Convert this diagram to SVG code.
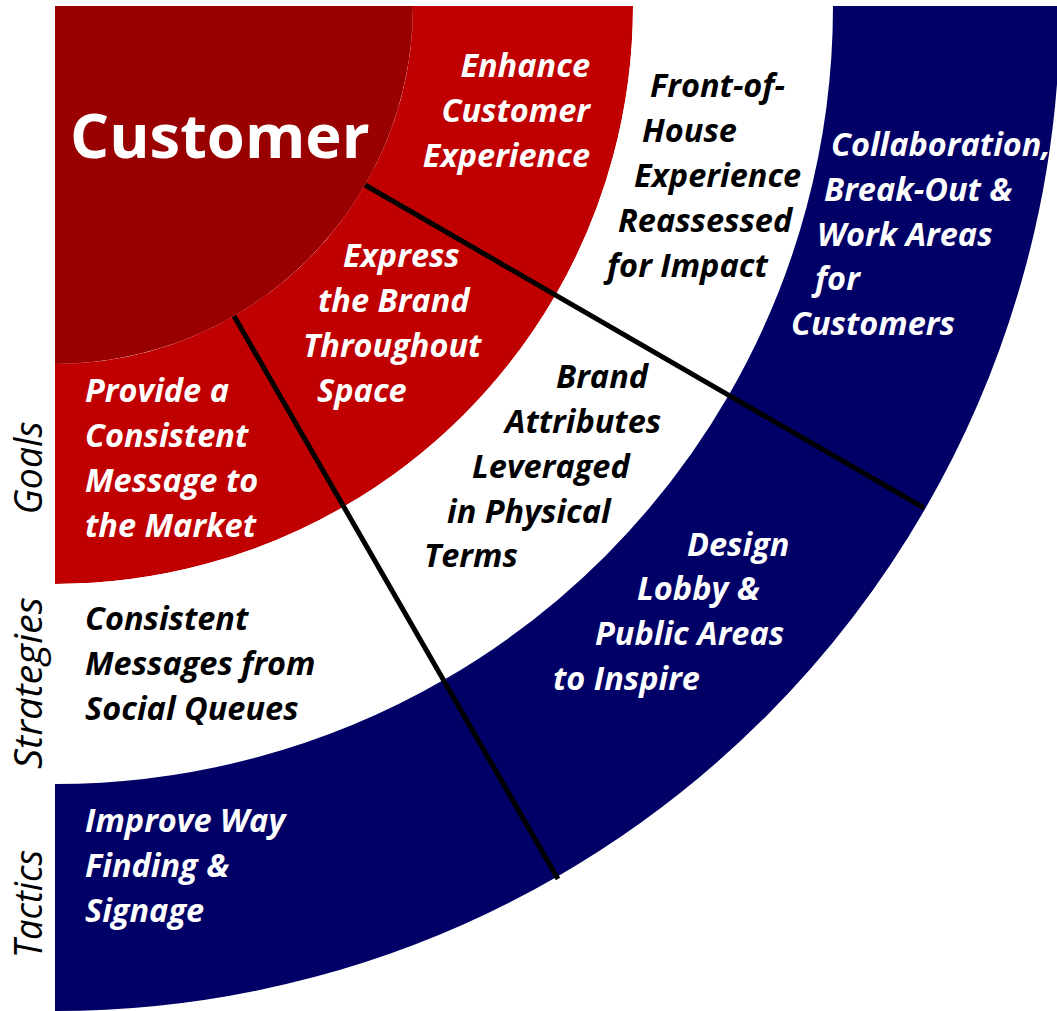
<svg xmlns="http://www.w3.org/2000/svg" width="1057" height="1011" viewBox="0 0 1057 1011">
<style>
.t{font-family:"Open Sans","Noto Sans","DejaVu Sans",sans-serif;font-weight:bold;font-style:italic;font-size:32.5px}
.w{fill:#ffffff}
.k{fill:#000000}
.side{font-family:"Open Sans","Noto Sans","DejaVu Sans",sans-serif;font-style:italic;font-size:38px;fill:#000000}
.core{fill:#990000}
.goal{fill:#C00000}
.strat{fill:#ffffff}
.tact{fill:#000066}
.div{stroke:#000000;stroke-width:5;fill:none}
</style>
<rect width="1057" height="1011" fill="#ffffff"/>
<g id="customer">
<path class="core" d="M55,6 L413,6 A358,358 0 0 1 55,364 Z"/>
<text x="70" y="158" style="font-family:'Open Sans','Noto Sans',sans-serif;font-weight:bold;font-size:61.5px;fill:#ffffff">Customer</text>
</g>
<g id="goal-enhance">
<path class="goal" d="M413,6 L633,6 A578,578 0 0 1 555.6,295 L365,185 A358,358 0 0 0 413,6 Z"/>
<text class="t w" text-anchor="end"><tspan x="590" y="77">Enhance</tspan><tspan x="590" y="122">Customer</tspan><tspan x="590" y="167">Experience</tspan></text>
</g>
<g id="goal-express">
<path class="goal" d="M365,185 L555.6,295 A578,578 0 0 1 344,506.6 L234,316 A358,358 0 0 0 365,185 Z"/>
<text class="t w"><tspan x="343" y="267">Express</tspan><tspan x="318" y="312">the Brand</tspan><tspan x="303" y="357">Throughout</tspan><tspan x="317" y="402">Space</tspan></text>
</g>
<g id="goal-provide">
<path class="goal" d="M234,316 L344,506.6 A578,578 0 0 1 55,584 L55,364 A358,358 0 0 0 234,316 Z"/>
<text class="t w"><tspan x="85" y="402">Provide a</tspan><tspan x="85" y="447">Consistent</tspan><tspan x="85" y="492">Message to</tspan><tspan x="85" y="537">the Market</tspan></text>
</g>
<g id="strategy-front">
<path class="strat" d="M633,6 L833,6 A778,778 0 0 1 728.8,395 L555.6,295 A578,578 0 0 0 633,6 Z"/>
<text class="t k"><tspan x="650" y="97">Front-of-</tspan><tspan x="642" y="142">House</tspan><tspan x="634" y="187">Experience</tspan><tspan x="618" y="232">Reassessed</tspan><tspan x="607" y="277">for Impact</tspan></text>
</g>
<g id="strategy-brand">
<path class="strat" d="M555.6,295 L728.8,395 A778,778 0 0 1 444,679.8 L344,506.6 A578,578 0 0 0 555.6,295 Z"/>
<text class="t k"><tspan x="556" y="388">Brand</tspan><tspan x="505" y="433">Attributes</tspan><tspan x="472" y="478">Leveraged</tspan><tspan x="447" y="523">in Physical</tspan><tspan x="424" y="567">Terms</tspan></text>
</g>
<g id="strategy-consistent">
<path class="strat" d="M344,506.6 L444,679.8 A778,778 0 0 1 55,784 L55,584 A578,578 0 0 0 344,506.6 Z"/>
<text class="t k"><tspan x="85" y="630">Consistent</tspan><tspan x="85" y="675">Messages from</tspan><tspan x="85" y="720">Social Queues</tspan></text>
</g>
<g id="tactic-collaboration">
<path class="tact" d="M833,6 L1060,6 A1005,1005 0 0 1 925.4,508.5 L728.8,395 A778,778 0 0 0 833,6 Z"/>
<text class="t w"><tspan x="831" y="156">Collaboration,</tspan><tspan x="824" y="201">Break-Out &amp;</tspan><tspan x="817" y="246">Work Areas</tspan><tspan x="815" y="290">for</tspan><tspan x="791" y="335">Customers</tspan></text>
</g>
<g id="tactic-design">
<path class="tact" d="M728.8,395 L925.4,508.5 A1005,1005 0 0 1 557.5,876.4 L444,679.8 A778,778 0 0 0 728.8,395 Z"/>
<text class="t w"><tspan x="687" y="556">Design</tspan><tspan x="637" y="600">Lobby &amp;</tspan><tspan x="595" y="645">Public Areas</tspan><tspan x="553" y="690">to Inspire</tspan></text>
</g>
<g id="tactic-wayfinding">
<path class="tact" d="M444,679.8 L557.5,876.4 A1005,1005 0 0 1 55,1011 L55,784 A778,778 0 0 0 444,679.8 Z"/>
<text class="t w"><tspan x="85" y="832">Improve Way</tspan><tspan x="85" y="877">Finding &amp;</tspan><tspan x="85" y="922">Signage</tspan></text>
</g>
<g id="connectors">
<line class="div" x1="365" y1="185" x2="924" y2="508"/>
<line class="div" x1="234" y1="316" x2="558" y2="879"/>
</g>
<g id="ring-labels">
<text class="side" text-anchor="middle" transform="translate(42,468) rotate(-90)" textLength="93" lengthAdjust="spacingAndGlyphs">Goals</text>
<text class="side" text-anchor="middle" transform="translate(42,683) rotate(-90)" textLength="172" lengthAdjust="spacingAndGlyphs">Strategies</text>
<text class="side" text-anchor="middle" transform="translate(42,904) rotate(-90)" textLength="108" lengthAdjust="spacingAndGlyphs">Tactics</text>
</g>
</svg>
